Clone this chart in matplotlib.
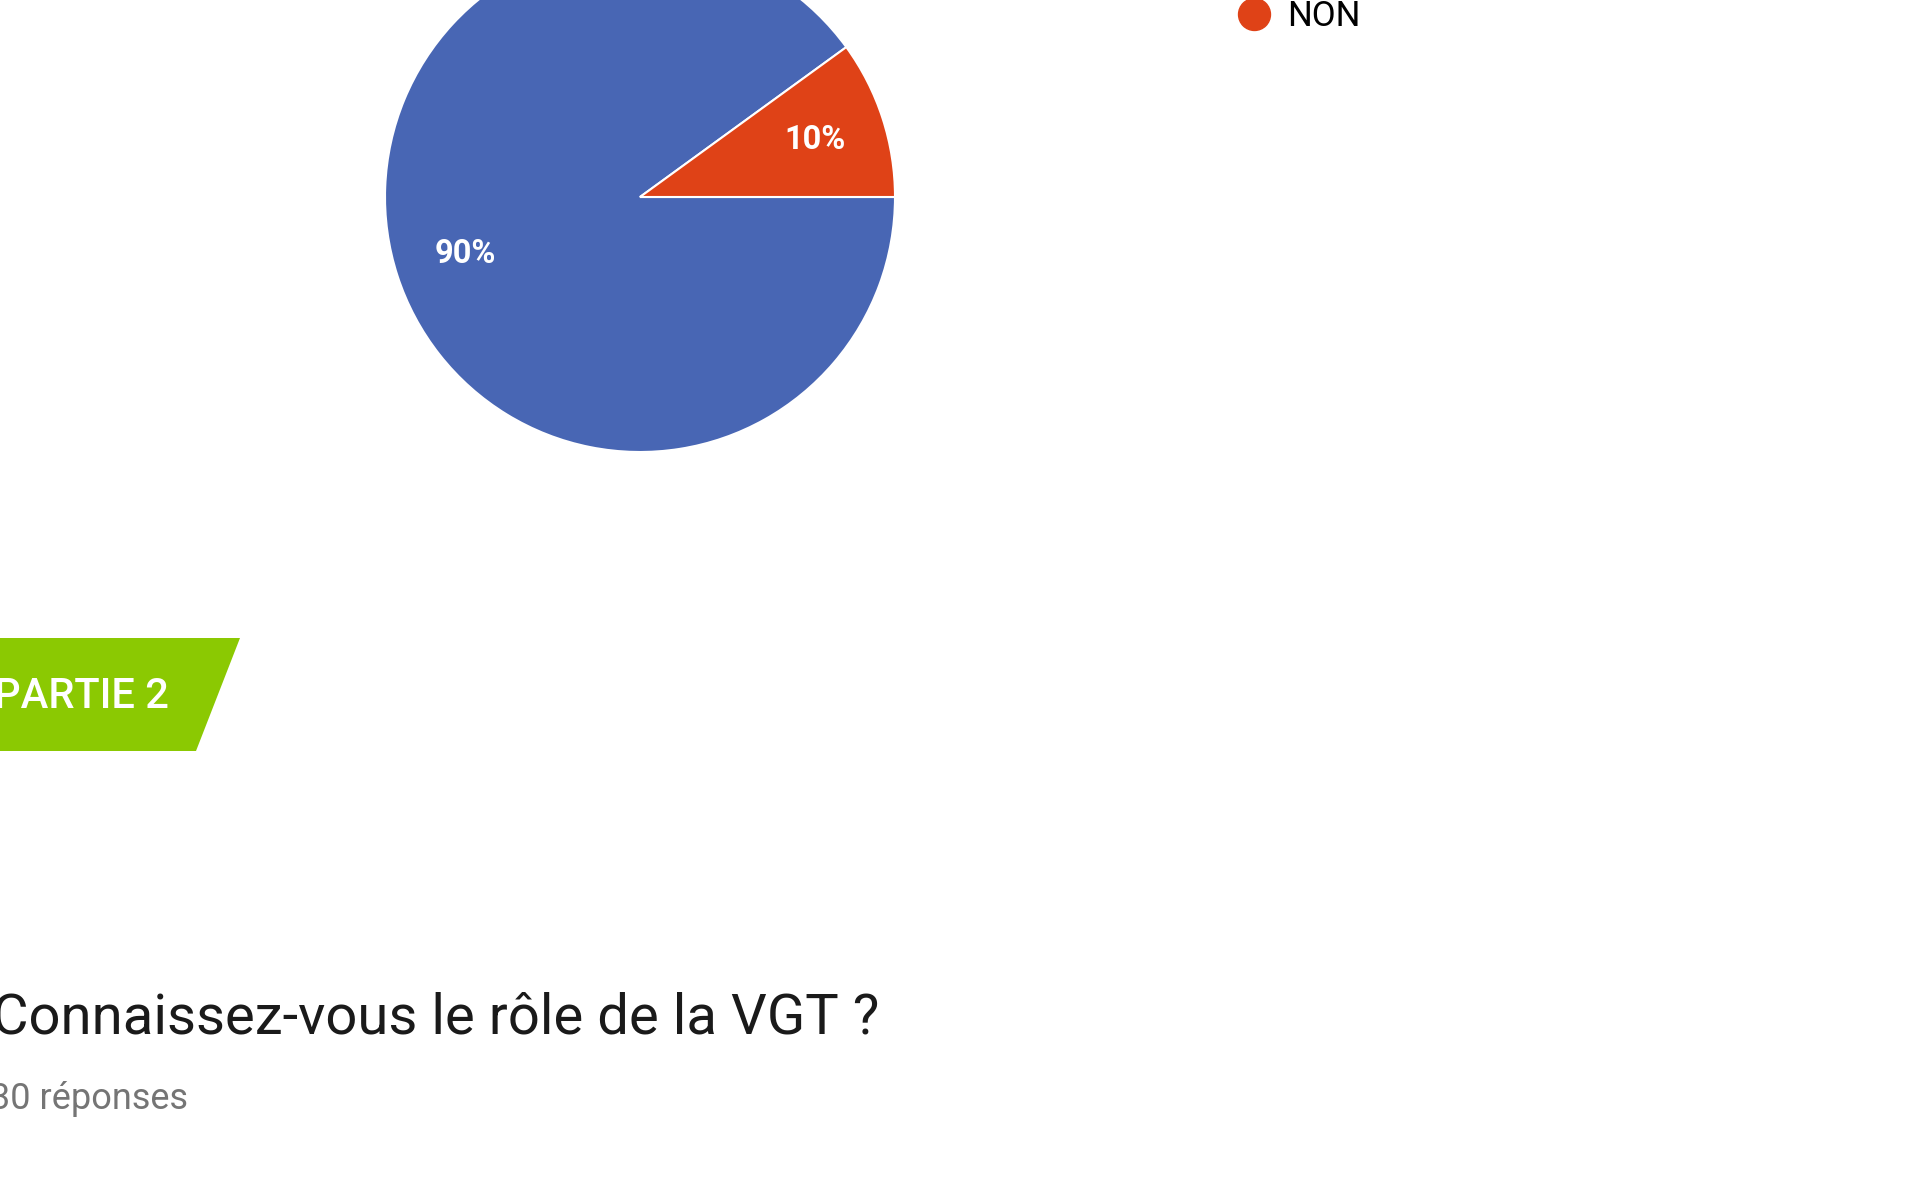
import matplotlib.pyplot as plt
from matplotlib.lines import Line2D
from matplotlib.patches import Polygon

plt.rcParams['font.family'] = ['Roboto', 'DejaVu Sans']

# Données du graphique
reponses = ['OUI', 'NON']
pourcentages = [90, 10]
couleurs = ['#4866B4', '#DF4217']

titre = 'Connaissez-vous le rôle de la VGT ?'
nb_reponses = '30 réponses'
section = 'PARTIE 2'

W, H = 1920, 1202
fig = plt.figure(figsize=(W / 100, H / 100), dpi=100)
ax = fig.add_axes([0, 0, 1, 1])
ax.axis('off')

# Camembert (coupé en haut comme la capture)
wedges, _, autotexts = ax.pie(
    pourcentages, colors=couleurs, startangle=36, counterclock=True,
    center=(640, H - 197), radius=255,
    autopct='%1.0f%%', pctdistance=0.72,
    wedgeprops=dict(edgecolor='white', linewidth=1.5),
    textprops=dict(color='white', fontsize=23.5, fontweight='bold'))
ax.set_xlim(0, W)
ax.set_ylim(0, H)
ax.set_aspect('auto')

# Légende
handles = [Line2D([], [], marker='o', linestyle='', markersize=23,
                  markerfacecolor=c, markeredgecolor=c) for c in couleurs]
ax.legend(handles, reponses, loc='lower left', frameon=False,
          bbox_to_anchor=(1233, H - 33), bbox_transform=ax.transData,
          borderpad=0, borderaxespad=0, handletextpad=0.35,
          labelspacing=1.2, fontsize=25, handlelength=1.2)

# Bandeau vert "PARTIE 2"
ax.add_patch(Polygon([(0, H - 638), (240, H - 638), (196, H - 751), (0, H - 751)],
                     closed=True, facecolor='#8BC902', edgecolor='none'))
ax.text(-6, H - 696, section, color='white', fontsize=30, fontweight='medium',
        va='center', ha='left')

# Titre de la question
ax.text(-8, H - 1018, titre, color='#1a1a1a', fontsize=40.5,
        va='center', ha='left')
ax.text(-10, H - 1099, nb_reponses, color='#757575', fontsize=26,
        va='center', ha='left')

fig.savefig('out.png', dpi=100)
